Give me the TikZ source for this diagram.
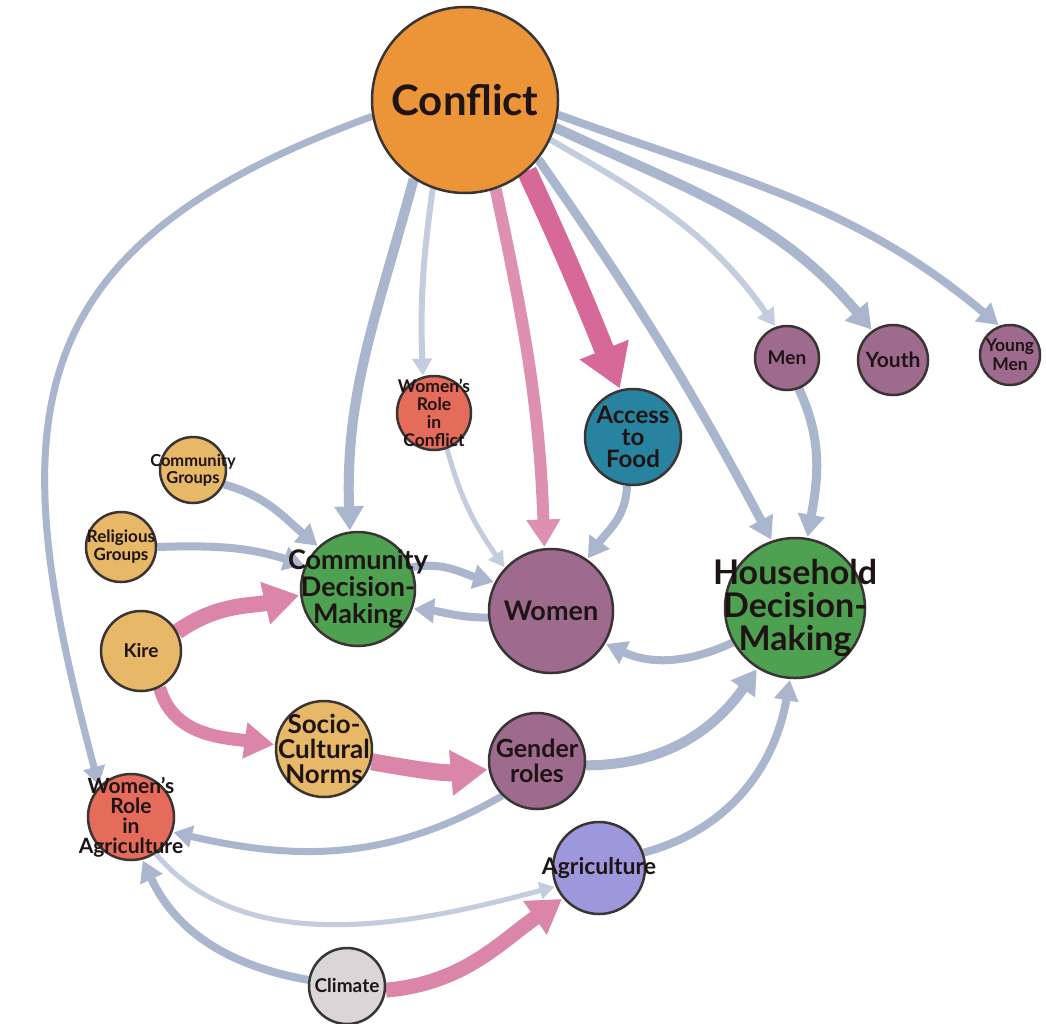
\documentclass[tikz,border=0pt]{standalone}
\usepackage{fontspec}
\setmainfont{Lato}
\usetikzlibrary{arrows.meta}
\pgfdeclarelayer{bg}
\pgfsetlayers{bg,main}
\definecolor{bordercol}{HTML}{3A3434}
\definecolor{txtcol}{HTML}{1E1414}
\definecolor{corange}{HTML}{EB9438}
\definecolor{cgreen}{HTML}{4EA150}
\definecolor{cmauve}{HTML}{9E6B8E}
\definecolor{ctan}{HTML}{E6B868}
\definecolor{csalmon}{HTML}{E56C5B}
\definecolor{cteal}{HTML}{27839F}
\definecolor{clav}{HTML}{9D98DC}
\definecolor{cgrey}{HTML}{D8D6D6}
\definecolor{eblue}{HTML}{A9B6CD}
\definecolor{elight}{HTML}{C3CDDD}
\definecolor{epink}{HTML}{DB86A8}
\definecolor{epinkl}{HTML}{DE90B0}
\definecolor{epinks}{HTML}{D6689A}
\newcommand{\fsz}[2]{\bfseries\fontsize{#1}{#2}\selectfont}
\tikzset{
  nd/.style={circle, draw=bordercol, line width=2.5pt, inner sep=0pt},
  txt/.style={align=center, text=txtcol, inner sep=0pt},
  arr/.style={-{Triangle[width=6pt 2.2, length=6pt 1.8]}, shorten >=1pt},
  eb/.style={draw=eblue, line width=#1, arr},
  el/.style={draw=elight, line width=#1, arr},
  ep/.style={draw=epink, line width=#1, arr},
  epl/.style={draw=epinkl, line width=#1, arr},
  eps/.style={draw=epinks, line width=#1, arr},
}
\begin{document}
\begin{tikzpicture}[x=1pt,y=1pt]
\useasboundingbox (0,0) rectangle (1046,-1023);
% nodes
\node[nd, fill=corange, minimum size=186pt, label={[txt, font=\fsz{42}{44}]center:Conflict}] (conf) at (465,-100) {};
\node[nd, fill=cmauve, minimum size=64pt, label={[txt, font=\fsz{19}{20}]center:Men}] (men) at (787,-358) {};
\node[nd, fill=cmauve, minimum size=70pt, label={[txt, font=\fsz{21}{22}]center:Youth}] (youth) at (893,-360) {};
\node[nd, fill=cmauve, minimum size=60pt, label={[txt, font=\fsz{17.5}{19}]center:{Young\\Men}}] (ym) at (1010,-355) {};
\node[nd, fill=csalmon, minimum size=74pt, label={[txt, font=\fsz{17.5}{18}]center:{Women's\\Role\\in\\Conflict}}] (wrc) at (434,-413) {};
\node[nd, fill=cteal, minimum size=96pt, label={[txt, font=\fsz{24}{22}]center:{Access\\to\\Food}}] (access) at (633,-437) {};
\node[nd, fill=ctan, minimum size=66pt, label={[txt, font=\fsz{16.5}{17}]center:{Community\\Groups}}] (cg) at (193,-470) {};
\node[nd, fill=ctan, minimum size=70pt, label={[txt, font=\fsz{17}{18}]center:{Religious\\Groups}}] (rg) at (121,-547) {};
\node[nd, fill=cgreen, minimum size=114pt, label={[txt, font=\fsz{27}{27}]center:{Community\\Decision-\\Making}}] (cdm) at (358,-589) {};
\node[nd, fill=cmauve, minimum size=124pt, label={[txt, font=\fsz{27}{28}]center:Women}] (women) at (551,-611) {};
\node[nd, fill=cgreen, minimum size=140pt, label={[txt, font=\fsz{34}{33}]center:{Household\\Decision-\\Making}}] (hdm) at (795,-608) {};
\node[nd, fill=ctan, minimum size=80pt, label={[txt, font=\fsz{19}{20}]center:Kire}] (kire) at (141,-651) {};
\node[nd, fill=ctan, minimum size=96pt, label={[txt, font=\fsz{26}{25}]center:{Socio-\\Cultural\\Norms}}] (scn) at (324,-749) {};
\node[nd, fill=cmauve, minimum size=96pt, label={[txt, font=\fsz{25}{25}]center:{Gender\\roles}}] (gr) at (537,-761) {};
\node[nd, fill=csalmon, minimum size=86pt, label={[txt, font=\fsz{21}{20}]center:{Women's\\Role\\in\\Agriculture}}] (wra) at (131,-817) {};
\node[nd, fill=clav, minimum size=92pt, label={[txt, font=\fsz{23}{24}]center:Agriculture}] (agri) at (599,-868) {};
\node[nd, fill=cgrey, minimum size=76pt, label={[txt, font=\fsz{19}{20}]center:Climate}] (climate) at (347,-986) {};
% edges
\begin{pgfonlayer}{bg}
\fill[white] (0,0) rectangle (1046,-1023);
\draw[eb=7pt] (conf.190) to[out=200,in=105,looseness=1.35] (wra.136);
\draw[eb=10pt] (conf.237) to[out=255,in=92] (cdm.98);
\draw[el=6pt] (conf.250) to[out=262,in=92] (wrc.107);
\draw[epl=12pt] (conf.289) to[out=282,in=92] (women.96);
\draw[eps=20pt] (conf.311) to[out=295,in=112] (access.105);
\draw[eb=9pt] (conf.321) to[out=305,in=118] (hdm.109);
\draw[el=6pt] (conf.335) to[out=330,in=125] (men.110);
\draw[eb=10pt] (conf.343) to[out=335,in=130] (youth.125);
\draw[eb=8pt] (conf.351) to[out=340,in=140] (ym.110);
\draw[eb=9pt] (men.291) to[out=295,in=80] (hdm.80);
\draw[el=5pt] (wrc.290) to[out=285,in=125] (women.137);
\draw[eb=8pt] (access.263) to[out=268,in=55] (women.55);
\draw[eb=8pt] (cg.335) to[out=345,in=140] (cdm.133);
\draw[eb=8pt] (rg.0) to[out=2,in=162] (cdm.156);
\draw[ep=16pt] (kire.28) to[out=35,in=193] (cdm.186);
\draw[eb=8pt] (cdm.22) to[out=10,in=165] (women.153);
\draw[eb=8pt] (women.186) to[out=180,in=355] (cdm.340);
\draw[eb=8pt] (hdm.209) to[out=205,in=335] (women.329);
\draw[ep=13pt] (kire.297) to[out=285,in=172] (scn.175);
\draw[ep=17pt] (scn.345) to[out=350,in=185] (gr.190);
\draw[eb=10pt] (gr.355) to[out=0,in=235] (hdm.238);
\draw[eb=7pt] (gr.225) to[out=210,in=347] (wra.340);
\draw[eb=8pt] (agri.19) to[out=15,in=260] (hdm.266);
\draw[el=5pt] (wra.304) to[out=310,in=195,looseness=0.9] (agri.203);
\draw[eb=8pt] (climate.171) to[out=170,in=295] (wra.285);
\draw[ep=15pt] (climate.354) to[out=5,in=215] (agri.220);
\end{pgfonlayer}
\end{tikzpicture}
\end{document}
